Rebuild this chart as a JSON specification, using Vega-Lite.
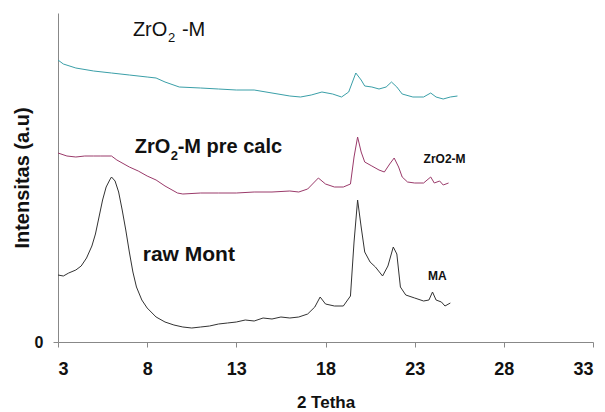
{
  "$schema": "https://vega.github.io/schema/vega-lite/v6.json",
  "width": 535,
  "height": 329,
  "autosize": {"type": "none"},
  "padding": {"left": 58, "top": 13, "right": 12, "bottom": 70},
  "background": "white",
  "config": {"view": {"stroke": null}, "font": "Liberation Sans"},
  "datasets": {
    "curves": [
      {"s": "raw Mont", "x": 3, "y": 67}, {"s": "raw Mont", "x": 3.3, "y": 66}, {"s": "raw Mont", "x": 3.6, "y": 69}, {"s": "raw Mont", "x": 4, "y": 72},
      {"s": "raw Mont", "x": 4.3, "y": 76}, {"s": "raw Mont", "x": 4.6, "y": 84}, {"s": "raw Mont", "x": 4.9, "y": 96}, {"s": "raw Mont", "x": 5.1, "y": 108},
      {"s": "raw Mont", "x": 5.3, "y": 125}, {"s": "raw Mont", "x": 5.5, "y": 142}, {"s": "raw Mont", "x": 5.7, "y": 155}, {"s": "raw Mont", "x": 5.9, "y": 162},
      {"s": "raw Mont", "x": 6.0, "y": 165}, {"s": "raw Mont", "x": 6.2, "y": 161}, {"s": "raw Mont", "x": 6.4, "y": 150}, {"s": "raw Mont", "x": 6.6, "y": 132},
      {"s": "raw Mont", "x": 6.8, "y": 112}, {"s": "raw Mont", "x": 7.0, "y": 90}, {"s": "raw Mont", "x": 7.2, "y": 70}, {"s": "raw Mont", "x": 7.4, "y": 55},
      {"s": "raw Mont", "x": 7.7, "y": 42}, {"s": "raw Mont", "x": 8.0, "y": 34}, {"s": "raw Mont", "x": 8.5, "y": 25}, {"s": "raw Mont", "x": 9.0, "y": 20},
      {"s": "raw Mont", "x": 9.5, "y": 17}, {"s": "raw Mont", "x": 10.0, "y": 15}, {"s": "raw Mont", "x": 10.5, "y": 14}, {"s": "raw Mont", "x": 11.0, "y": 15},
      {"s": "raw Mont", "x": 11.5, "y": 16}, {"s": "raw Mont", "x": 12.0, "y": 18}, {"s": "raw Mont", "x": 12.5, "y": 19}, {"s": "raw Mont", "x": 13.0, "y": 20},
      {"s": "raw Mont", "x": 13.5, "y": 22}, {"s": "raw Mont", "x": 14.0, "y": 21}, {"s": "raw Mont", "x": 14.5, "y": 24}, {"s": "raw Mont", "x": 15.0, "y": 23},
      {"s": "raw Mont", "x": 15.5, "y": 25}, {"s": "raw Mont", "x": 16.0, "y": 24}, {"s": "raw Mont", "x": 16.5, "y": 25}, {"s": "raw Mont", "x": 17.0, "y": 28},
      {"s": "raw Mont", "x": 17.4, "y": 35}, {"s": "raw Mont", "x": 17.7, "y": 45}, {"s": "raw Mont", "x": 18.0, "y": 38}, {"s": "raw Mont", "x": 18.5, "y": 36},
      {"s": "raw Mont", "x": 19.0, "y": 36}, {"s": "raw Mont", "x": 19.4, "y": 46}, {"s": "raw Mont", "x": 19.6, "y": 100}, {"s": "raw Mont", "x": 19.8, "y": 142},
      {"s": "raw Mont", "x": 20.0, "y": 115}, {"s": "raw Mont", "x": 20.2, "y": 90}, {"s": "raw Mont", "x": 20.5, "y": 80}, {"s": "raw Mont", "x": 20.8, "y": 75},
      {"s": "raw Mont", "x": 21.2, "y": 66}, {"s": "raw Mont", "x": 21.5, "y": 76}, {"s": "raw Mont", "x": 21.8, "y": 95}, {"s": "raw Mont", "x": 22.0, "y": 88},
      {"s": "raw Mont", "x": 22.2, "y": 55}, {"s": "raw Mont", "x": 22.5, "y": 47}, {"s": "raw Mont", "x": 23.0, "y": 44}, {"s": "raw Mont", "x": 23.5, "y": 41},
      {"s": "raw Mont", "x": 23.8, "y": 42}, {"s": "raw Mont", "x": 24.0, "y": 50}, {"s": "raw Mont", "x": 24.2, "y": 42}, {"s": "raw Mont", "x": 24.5, "y": 40},
      {"s": "raw Mont", "x": 24.7, "y": 36}, {"s": "raw Mont", "x": 25.0, "y": 39},

      {"s": "pre calc", "x": 3, "y": 189}, {"s": "pre calc", "x": 3.5, "y": 186}, {"s": "pre calc", "x": 4, "y": 185}, {"s": "pre calc", "x": 4.5, "y": 186},
      {"s": "pre calc", "x": 5.0, "y": 186}, {"s": "pre calc", "x": 5.4, "y": 186}, {"s": "pre calc", "x": 6.0, "y": 186}, {"s": "pre calc", "x": 6.3, "y": 182},
      {"s": "pre calc", "x": 7.0, "y": 175}, {"s": "pre calc", "x": 7.5, "y": 171}, {"s": "pre calc", "x": 8.0, "y": 166}, {"s": "pre calc", "x": 8.5, "y": 162},
      {"s": "pre calc", "x": 9.0, "y": 156}, {"s": "pre calc", "x": 9.7, "y": 149}, {"s": "pre calc", "x": 10, "y": 148}, {"s": "pre calc", "x": 11, "y": 149},
      {"s": "pre calc", "x": 12, "y": 149}, {"s": "pre calc", "x": 13, "y": 149}, {"s": "pre calc", "x": 14, "y": 150}, {"s": "pre calc", "x": 15, "y": 150},
      {"s": "pre calc", "x": 16, "y": 151}, {"s": "pre calc", "x": 16.5, "y": 150}, {"s": "pre calc", "x": 17.0, "y": 153}, {"s": "pre calc", "x": 17.6, "y": 164},
      {"s": "pre calc", "x": 18.0, "y": 158}, {"s": "pre calc", "x": 18.5, "y": 155}, {"s": "pre calc", "x": 19.0, "y": 155}, {"s": "pre calc", "x": 19.4, "y": 158},
      {"s": "pre calc", "x": 19.6, "y": 185}, {"s": "pre calc", "x": 19.8, "y": 205}, {"s": "pre calc", "x": 20.0, "y": 190}, {"s": "pre calc", "x": 20.2, "y": 180},
      {"s": "pre calc", "x": 20.6, "y": 176}, {"s": "pre calc", "x": 21.0, "y": 172}, {"s": "pre calc", "x": 21.3, "y": 170}, {"s": "pre calc", "x": 21.6, "y": 178},
      {"s": "pre calc", "x": 21.85, "y": 184}, {"s": "pre calc", "x": 22.1, "y": 175}, {"s": "pre calc", "x": 22.3, "y": 165}, {"s": "pre calc", "x": 22.6, "y": 160},
      {"s": "pre calc", "x": 23.0, "y": 159}, {"s": "pre calc", "x": 23.5, "y": 159}, {"s": "pre calc", "x": 23.9, "y": 165}, {"s": "pre calc", "x": 24.1, "y": 159},
      {"s": "pre calc", "x": 24.4, "y": 161}, {"s": "pre calc", "x": 24.6, "y": 157}, {"s": "pre calc", "x": 24.9, "y": 159},

      {"s": "ZrO2-M", "x": 3, "y": 282}, {"s": "ZrO2-M", "x": 3.3, "y": 278}, {"s": "ZrO2-M", "x": 4, "y": 274}, {"s": "ZrO2-M", "x": 5, "y": 271},
      {"s": "ZrO2-M", "x": 6, "y": 269}, {"s": "ZrO2-M", "x": 7, "y": 267}, {"s": "ZrO2-M", "x": 8, "y": 265}, {"s": "ZrO2-M", "x": 8.5, "y": 264},
      {"s": "ZrO2-M", "x": 9, "y": 260}, {"s": "ZrO2-M", "x": 9.8, "y": 255}, {"s": "ZrO2-M", "x": 11, "y": 254}, {"s": "ZrO2-M", "x": 12, "y": 253},
      {"s": "ZrO2-M", "x": 13, "y": 252}, {"s": "ZrO2-M", "x": 14, "y": 252}, {"s": "ZrO2-M", "x": 15, "y": 249}, {"s": "ZrO2-M", "x": 16, "y": 246},
      {"s": "ZrO2-M", "x": 16.6, "y": 245}, {"s": "ZrO2-M", "x": 17.2, "y": 247}, {"s": "ZrO2-M", "x": 17.8, "y": 250}, {"s": "ZrO2-M", "x": 18.4, "y": 248},
      {"s": "ZrO2-M", "x": 18.9, "y": 245}, {"s": "ZrO2-M", "x": 19.3, "y": 250}, {"s": "ZrO2-M", "x": 19.7, "y": 269}, {"s": "ZrO2-M", "x": 20.0, "y": 262},
      {"s": "ZrO2-M", "x": 20.2, "y": 256}, {"s": "ZrO2-M", "x": 20.6, "y": 255}, {"s": "ZrO2-M", "x": 21.0, "y": 253}, {"s": "ZrO2-M", "x": 21.4, "y": 255},
      {"s": "ZrO2-M", "x": 21.7, "y": 260}, {"s": "ZrO2-M", "x": 22.0, "y": 255}, {"s": "ZrO2-M", "x": 22.3, "y": 248}, {"s": "ZrO2-M", "x": 22.9, "y": 245},
      {"s": "ZrO2-M", "x": 23.5, "y": 245}, {"s": "ZrO2-M", "x": 23.9, "y": 249}, {"s": "ZrO2-M", "x": 24.2, "y": 245}, {"s": "ZrO2-M", "x": 24.6, "y": 243},
      {"s": "ZrO2-M", "x": 25.0, "y": 245}, {"s": "ZrO2-M", "x": 25.4, "y": 246}
    ],
    "head": [
      {"a": "ZrO", "b": "2", "c": "-M", "x": 7.2, "y": 306}
    ],
    "pre": [
      {"a": "ZrO", "b": "2", "c": "-M pre calc", "x": 7.3, "y": 189}
    ],
    "raw": [
      {"t": "raw Mont", "x": 7.75, "y": 81}
    ],
    "small": [
      {"t": "ZrO2-M", "x": 23.5, "y": 179},
      {"t": "MA", "x": 23.75, "y": 62}
    ]
  },
  "layer": [
    {
      "data": {"name": "curves"},
      "mark": {"type": "line", "strokeWidth": 1, "interpolate": "linear"},
      "encoding": {
        "x": {"field": "x", "type": "quantitative", "scale": {"domain": [3, 33], "nice": false},
          "axis": {"values": [3, 8, 13, 18, 23, 28, 33], "title": "2 Tetha", "grid": false,
            "domainColor": "#888", "tickColor": "#888", "tickSize": 5, "labelPadding": 13,
            "labelFont": "Liberation Sans", "labelFontWeight": "bold", "labelFontSize": 18, "labelColor": "#111",
            "titleFont": "Liberation Sans", "titleFontWeight": "bold", "titleFontSize": 17, "titleColor": "#111", "titlePadding": 16}},
        "y": {"field": "y", "type": "quantitative", "scale": {"domain": [0, 329], "nice": false},
          "axis": {"values": [0], "title": "Intensitas (a.u)", "grid": false,
            "domainColor": "#888", "tickColor": "#888", "tickSize": 5, "labelPadding": 10,
            "labelFont": "Liberation Sans", "labelFontWeight": "bold", "labelFontSize": 16, "labelColor": "#111",
            "titleFont": "Liberation Sans", "titleFontWeight": "bold", "titleFontSize": 20, "titleColor": "#111", "titlePadding": 2}},
        "color": {"field": "s", "type": "nominal", "legend": null,
          "scale": {"domain": ["raw Mont", "pre calc", "ZrO2-M"], "range": ["#333333", "#9a3a6a", "#3a9fa8"]}},
        "detail": {"field": "s"}
      }
    },
    {
      "data": {"name": "head"},
      "mark": {"type": "text", "align": "left", "baseline": "alphabetic", "font": "Liberation Sans", "fontSize": 20, "fontWeight": "normal", "color": "#111"},
      "encoding": {"x": {"field": "x", "type": "quantitative"}, "y": {"field": "y", "type": "quantitative"}, "text": {"field": "a"}}
    },
    {
      "data": {"name": "head"},
      "mark": {"type": "text", "align": "left", "baseline": "alphabetic", "font": "Liberation Sans", "fontSize": 13, "fontWeight": "normal", "color": "#111", "dx": 35, "dy": 6},
      "encoding": {"x": {"field": "x", "type": "quantitative"}, "y": {"field": "y", "type": "quantitative"}, "text": {"field": "b"}}
    },
    {
      "data": {"name": "head"},
      "mark": {"type": "text", "align": "left", "baseline": "alphabetic", "font": "Liberation Sans", "fontSize": 20, "fontWeight": "normal", "color": "#111", "dx": 49},
      "encoding": {"x": {"field": "x", "type": "quantitative"}, "y": {"field": "y", "type": "quantitative"}, "text": {"field": "c"}}
    },
    {
      "data": {"name": "pre"},
      "mark": {"type": "text", "align": "left", "baseline": "alphabetic", "font": "Liberation Sans", "fontSize": 20, "fontWeight": "bold", "color": "#111"},
      "encoding": {"x": {"field": "x", "type": "quantitative"}, "y": {"field": "y", "type": "quantitative"}, "text": {"field": "a"}}
    },
    {
      "data": {"name": "pre"},
      "mark": {"type": "text", "align": "left", "baseline": "alphabetic", "font": "Liberation Sans", "fontSize": 13, "fontWeight": "bold", "color": "#111", "dx": 36, "dy": 7},
      "encoding": {"x": {"field": "x", "type": "quantitative"}, "y": {"field": "y", "type": "quantitative"}, "text": {"field": "b"}}
    },
    {
      "data": {"name": "pre"},
      "mark": {"type": "text", "align": "left", "baseline": "alphabetic", "font": "Liberation Sans", "fontSize": 20, "fontWeight": "bold", "color": "#111", "dx": 43},
      "encoding": {"x": {"field": "x", "type": "quantitative"}, "y": {"field": "y", "type": "quantitative"}, "text": {"field": "c"}}
    },
    {
      "data": {"name": "raw"},
      "mark": {"type": "text", "align": "left", "baseline": "alphabetic", "font": "Liberation Sans", "fontSize": 21, "fontWeight": "bold", "color": "#111"},
      "encoding": {"x": {"field": "x", "type": "quantitative"}, "y": {"field": "y", "type": "quantitative"}, "text": {"field": "t"}}
    },
    {
      "data": {"name": "small"},
      "mark": {"type": "text", "align": "left", "baseline": "alphabetic", "font": "Liberation Sans", "fontSize": 12, "fontWeight": "bold", "color": "#111"},
      "encoding": {"x": {"field": "x", "type": "quantitative"}, "y": {"field": "y", "type": "quantitative"}, "text": {"field": "t"}}
    }
  ]
}
